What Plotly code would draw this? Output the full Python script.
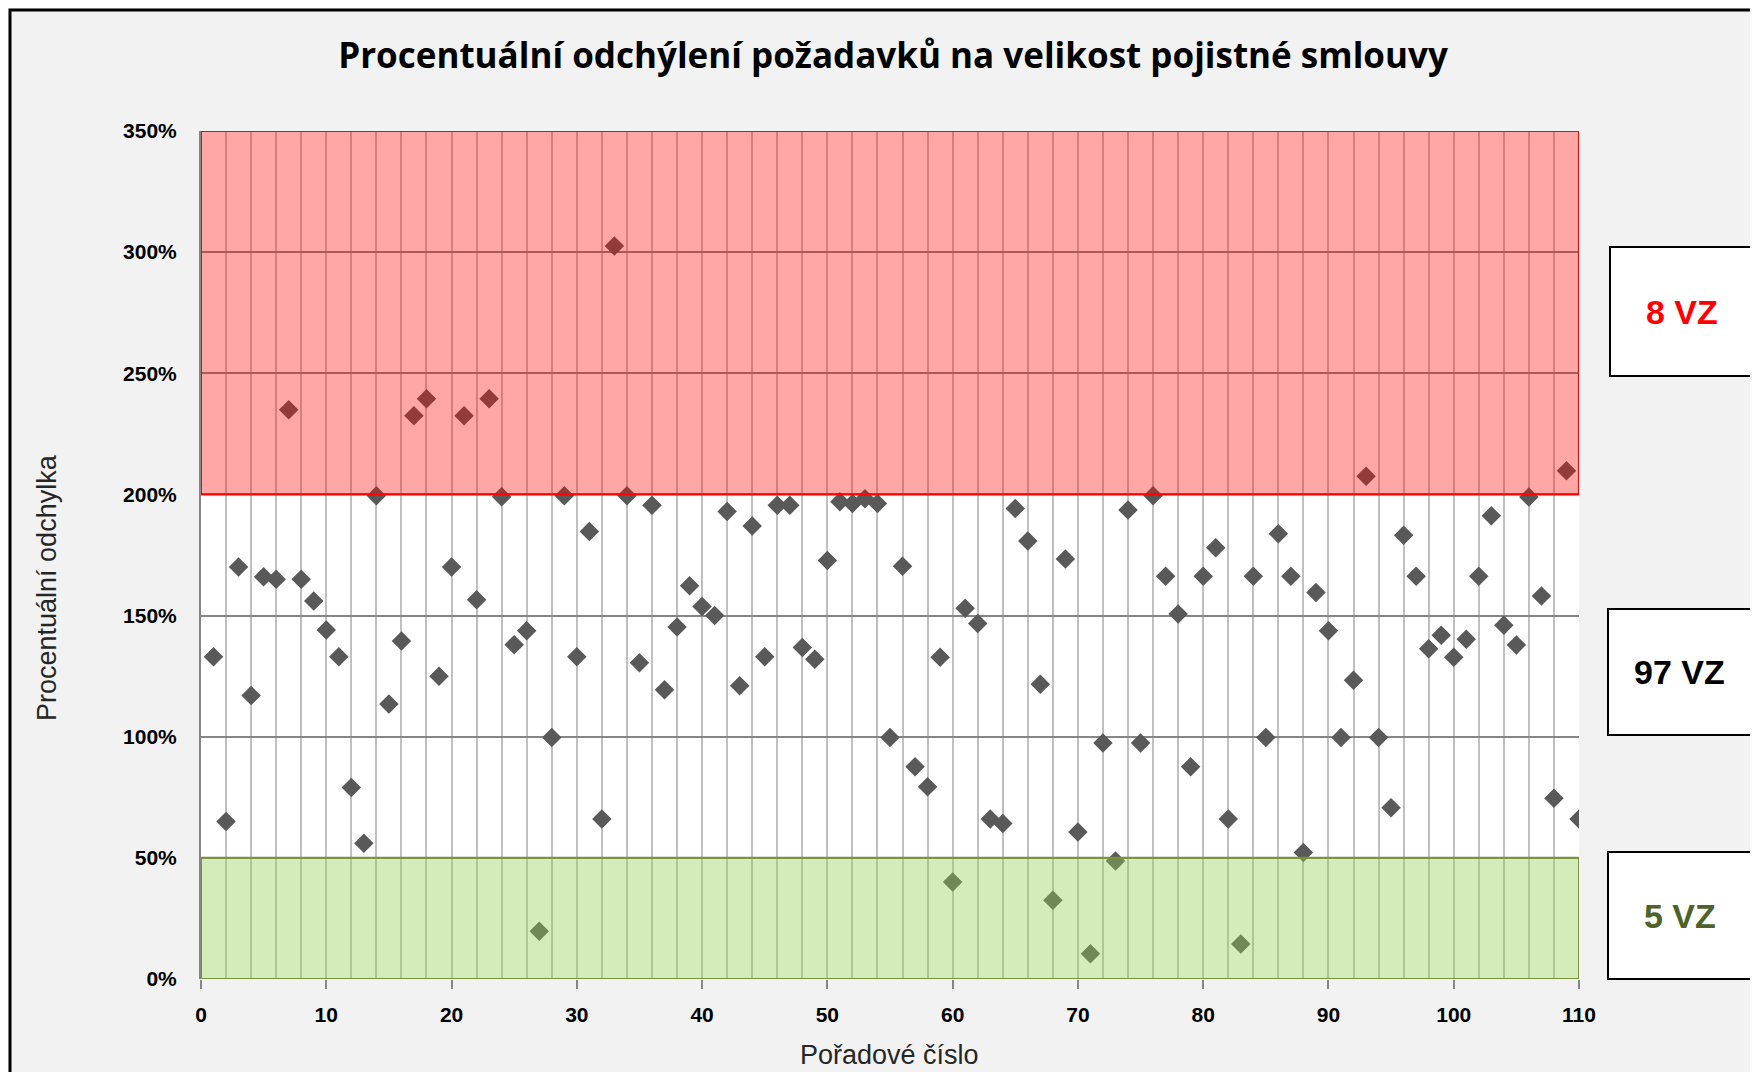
import plotly.graph_objects as go

# Order numbers (Pořadové číslo)
order_numbers = list(range(1, 111))

# Percentage deviation values
deviation_pct = [
    133, 65, 170, 117, 166, 165, 235, 165, 156, 144,
    133, 79, 56, 199.5, 113.5, 139.5, 232.5, 239.5, 125, 170,
    232.5, 156.5, 239.5, 199, 138, 143.7, 19.7, 99.7, 199.5, 133,
    184.7, 66, 302.5, 199.5, 130.5, 195.5, 119.4, 145.3, 162.3, 153.7,
    150, 193, 121, 187, 133, 195.5, 195.5, 136.8, 132, 172.7,
    197, 196.3, 198.2, 196.3, 99.7, 170.4, 87.6, 79.3, 132.8, 40,
    153, 146.7, 66, 64.2, 194.2, 180.8, 121.7, 32.5, 173.4, 60.7,
    10.4, 97.4, 48.7, 193.6, 97.4, 199.5, 166.2, 150.7, 87.6, 166.2,
    178, 66, 14.4, 166.2, 99.7, 183.8, 166.2, 52.2, 159.5, 143.7,
    99.7, 123.3, 207.5, 99.7, 70.7, 183.1, 166.2, 136.3, 141.9, 132.8,
    140.2, 166.2, 191.2, 146, 137.9, 198.9, 158.1, 74.6, 209.8, 66,
]

# Zone boundaries (%) and labels
zone_red = (200, 350)
zone_green = (0, 50)
y_tick_values = [0, 50, 100, 150, 200, 250, 300, 350]
y_tick_labels = ["0%", "50%", "100%", "150%", "200%", "250%", "300%", "350%"]
x_tick_values = [0, 10, 20, 30, 40, 50, 60, 70, 80, 90, 100, 110]
box_labels = ["8 VZ", "97 VZ", "5 VZ"]
box_colors = ["#ff0000", "#000000", "#4f6228"]

title_text = "Procentuální odchýlení požadavků na velikost pojistné smlouvy"
y_title = "Procentuální odchylka"
x_title = "Pořadové číslo"

OFF = 8  # page body margin
PAGE_W, PAGE_H = 1758, 1072
W, H = PAGE_W - OFF, PAGE_H - OFF
# plot area in page pixels: x 201..1579, y 131..979
L = 201 - OFF
T = 131 - OFF
pw, ph = 1378, 848
R = W - L - pw
B = H - T - ph


def px_to_paper_x(px):  # px in page coordinates
    return (px - OFF - L) / pw


def px_to_paper_y(py):
    return (T + ph - (py - OFF)) / ph


fig = go.Figure()
fig.add_trace(go.Scatter(
    x=order_numbers, y=deviation_pct, mode="markers",
    marker=dict(symbol="diamond", size=15, color="#595959", line=dict(width=0)),
    showlegend=False, hoverinfo="x+y",
))

shapes = []
shapes.append(dict(type="rect", xref="x", yref="y", x0=0, x1=110,
                   y0=zone_red[0], y1=zone_red[1],
                   fillcolor="rgba(255,0,0,0.35)", line=dict(color="#ff0000", width=2),
                   layer="above"))
shapes.append(dict(type="rect", xref="x", yref="y", x0=0, x1=110,
                   y0=zone_green[0], y1=zone_green[1],
                   fillcolor="rgba(146,208,80,0.4)", line=dict(color="#77933c", width=2),
                   layer="above"))
# Outer chart border (extends beyond right/bottom of the image)
shapes.append(dict(type="rect", xref="paper", yref="paper",
                   x0=px_to_paper_x(10), x1=px_to_paper_x(PAGE_W + 40),
                   y0=px_to_paper_y(PAGE_H + 40), y1=px_to_paper_y(10),
                   line=dict(color="#000000", width=3), fillcolor="rgba(0,0,0,0)",
                   layer="below"))

boxes_px = [(1610, 1753, 247, 376), (1608, 1751, 609, 735), (1608, 1751, 852, 979)]
annotations = []
for (bx0, bx1, by0, by1), lab, col in zip(boxes_px, box_labels, box_colors):
    shapes.append(dict(type="rect", xref="paper", yref="paper",
                       x0=px_to_paper_x(bx0), x1=px_to_paper_x(bx1),
                       y0=px_to_paper_y(by1), y1=px_to_paper_y(by0),
                       fillcolor="#ffffff", line=dict(color="#000000", width=2)))
    annotations.append(dict(xref="paper", yref="paper",
                            x=px_to_paper_x((bx0 + bx1) / 2), y=px_to_paper_y((by0 + by1) / 2),
                            text="<b>%s</b>" % lab, showarrow=False,
                            font=dict(family="Liberation Sans, Arial, sans-serif", size=34, color=col),
                            xanchor="center", yanchor="middle"))

annotations.append(dict(xref="paper", yref="paper", x=px_to_paper_x(47), y=px_to_paper_y(588),
                        text=y_title, textangle=-90, showarrow=False,
                        font=dict(family="Liberation Sans, Arial, sans-serif", size=27, color="#262626"),
                        xanchor="center", yanchor="middle"))
annotations.append(dict(xref="paper", yref="paper", x=px_to_paper_x(889), y=px_to_paper_y(1055),
                        text=x_title, showarrow=False,
                        font=dict(family="Liberation Sans, Arial, sans-serif", size=27, color="#262626"),
                        xanchor="center", yanchor="middle"))

fig.update_layout(
    width=W, height=H,
    margin=dict(l=L, r=R, t=T, b=B, autoexpand=False),
    paper_bgcolor="#f2f2f2", plot_bgcolor="#ffffff",
    title=dict(text="<b>%s</b>" % title_text, x=(893 - OFF) / W, xanchor="center",
               y=1 - (56 - OFF) / H, yanchor="middle", yref="container",
               font=dict(family="Open Sans, sans-serif", size=35, color="#000000")),
    shapes=shapes, annotations=annotations,
    showlegend=False,
)
fig.update_xaxes(
    range=[0, 110], tickvals=x_tick_values, ticks="outside", ticklen=9,
    tickcolor="#868686", tickwidth=2, ticklabelstandoff=8,
    showgrid=True, gridcolor="#c0c0c0", gridwidth=2,
    minor=dict(dtick=2, tick0=0, showgrid=True, gridcolor="#c0c0c0", gridwidth=2),
    zeroline=False, showline=False,
    tickfont=dict(family="Liberation Sans, Arial, sans-serif", size=21, color="#000000", weight="bold"),
)
fig.update_yaxes(
    range=[0, 350], tickvals=y_tick_values, ticktext=y_tick_labels, ticks="",
    ticklabelstandoff=18,
    showgrid=True, gridcolor="#868686", gridwidth=2,
    zeroline=False, showline=True, linecolor="#868686", linewidth=2,
    tickfont=dict(family="Liberation Sans, Arial, sans-serif", size=21, color="#000000", weight="bold"),
)

fig.write_html("out.html")
